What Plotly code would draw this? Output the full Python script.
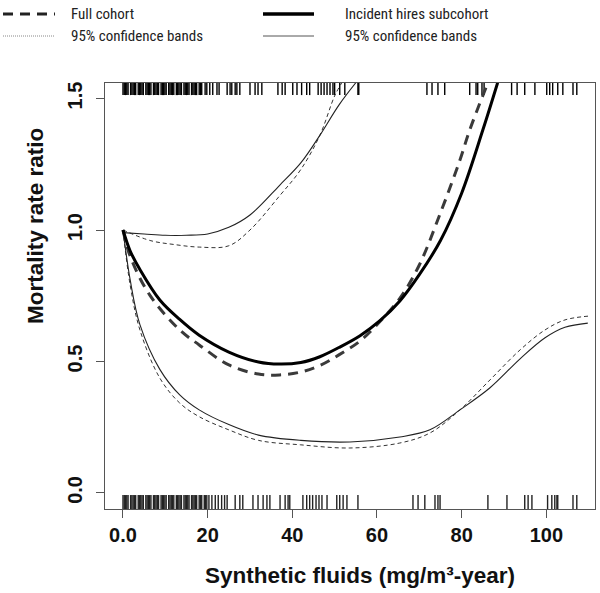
import plotly.graph_objects as go

# ---------------- data ----------------
# Incident hires subcohort (solid) estimate and 95% bands
inc_x = [0, 1.7, 4.0, 8.7, 13.4, 18.0, 25.0, 32.0, 37.0, 42.0, 46.5, 51.0, 56.0, 60.7, 65.4, 70.0, 75.0, 80.0, 85.0, 88.5]
inc_y = [1.0, 0.92, 0.85, 0.734, 0.66, 0.60, 0.536, 0.498, 0.49, 0.496, 0.518, 0.553, 0.598, 0.655, 0.73, 0.83, 0.96, 1.14, 1.38, 1.56]

inc_up_x = [0, 5, 10, 15, 20, 25, 30, 37, 42, 46.5, 51, 55]
inc_up_y = [0.99, 0.985, 0.98, 0.98, 0.985, 1.01, 1.057, 1.17, 1.255, 1.36, 1.475, 1.56]

inc_lo_x = [0, 1.7, 4.0, 8.7, 13.4, 18.0, 25.0, 32.0, 42.0, 53.6, 65.4, 72.5, 79.6, 86.7, 93.8, 99.7, 104.4, 109.8]
inc_lo_y = [1.0, 0.81, 0.64, 0.47, 0.373, 0.316, 0.26, 0.22, 0.20, 0.194, 0.213, 0.24, 0.316, 0.40, 0.51, 0.59, 0.63, 0.646]

# Full cohort (dashed) estimate and 95% bands
full_x = [0, 1.7, 6.3, 13.4, 18.0, 25.0, 32.0, 37.0, 42.0, 46.5, 51.0, 56.0, 60.7, 65.4, 70.0, 74.8, 79.6, 81.9, 86.2]
full_y = [1.0, 0.90, 0.753, 0.62, 0.563, 0.487, 0.452, 0.449, 0.46, 0.485, 0.525, 0.578, 0.652, 0.74, 0.867, 1.057, 1.266, 1.38, 1.56]

full_up_x = [0, 6.4, 12, 18, 25, 30, 37, 42, 46.5, 50, 51.7]
full_up_y = [1.0, 0.96, 0.945, 0.935, 0.94, 1.0, 1.13, 1.23, 1.36, 1.51, 1.56]

full_lo_x = [0, 1.7, 4.0, 8.7, 13.4, 18.0, 25.0, 32.0, 42.0, 53.6, 65.4, 72.5, 79.6, 86.7, 93.8, 99.7, 104.4, 110.3]
full_lo_y = [1.0, 0.79, 0.62, 0.437, 0.342, 0.29, 0.24, 0.20, 0.183, 0.171, 0.19, 0.228, 0.316, 0.43, 0.544, 0.62, 0.658, 0.673]

# Rug values (exposures)
rug_top = [0.0, 0.3, 0.6, 0.9, 1.2, 1.8, 2.1, 2.4, 2.7, 3.0, 3.6, 3.9, 4.2, 4.5, 4.8,
           5.4, 5.7, 6.0, 6.3, 6.6, 7.2, 7.5, 7.8, 8.1, 8.4, 9.0, 9.3, 9.6, 9.9, 10.2,
           10.8, 11.1, 11.4, 11.7, 12.0, 12.6, 12.9, 13.2, 13.5, 13.8, 14.4, 14.7, 15.0, 15.3, 15.6,
           16.2, 16.5, 16.8, 17.1, 17.4, 18.0, 18.3, 18.6,
           19.4, 19.8, 20.5, 21.2, 22.2, 22.7, 24.6, 25.3, 25.7, 26.5, 26.9, 27.6,
           30.0, 31.2, 31.9, 32.8, 36.6, 37.6, 38.3, 40.1, 41.1, 42.2, 43.4, 44.1,
           46.1, 46.8, 47.5, 48.2, 48.9, 49.6, 50.0, 51.2, 52.4, 55.5, 55.7,
           71.8, 73.0, 74.4, 76.0, 81.9, 83.4, 83.8, 84.8, 85.3,
           91.8, 93.1, 94.9, 97.3, 100.1, 100.8, 101.5, 102.7, 103.9, 106.3, 107.2]

rug_bottom = [0.0, 0.3, 0.6, 0.9, 1.2, 1.8, 2.1, 2.4, 2.7, 3.0, 3.6, 3.9, 4.2, 4.5, 4.8,
              5.4, 5.7, 6.0, 6.3, 6.6, 7.2, 7.5, 7.8, 8.1, 8.4, 9.0, 9.3, 9.6, 9.9, 10.2,
              10.8, 11.1, 11.4, 11.7, 12.0, 12.6, 12.9, 13.2, 13.5, 13.8, 14.4, 14.7, 15.0, 15.3, 15.6,
              16.2, 16.5, 16.8, 17.1, 17.4, 18.0, 18.3, 18.6, 19.2, 19.5, 19.8,
              20.3, 21.0, 21.8, 22.5, 23.3, 24.0, 24.6,
              26.5, 27.6, 28.3, 30.7, 31.9, 33.1, 34.0, 34.7, 37.1, 38.3, 39.0, 39.4,
              42.5, 43.4, 44.1, 44.8, 45.6, 46.3, 47.0, 48.2, 50.5, 51.2, 52.0, 52.9, 55.5,
              68.5, 69.7, 71.3, 73.7, 74.4, 74.9, 86.2, 90.7, 94.9, 95.7, 96.6,
              100.3, 101.3, 102.0, 102.5, 102.7, 106.3, 107.2]

x_ticks = [0, 20, 40, 60, 80, 100]
x_tick_labels = ["0.0", "20", "40", "60", "80", "100"]
y_ticks = [0.0, 0.5, 1.0, 1.5]
y_tick_labels = ["0.0", "0.5", "1.0", "1.5"]

X_RANGE = [-4.25, 111.5]
Y_RANGE = [-0.061, 1.559]


def rug_segments(vals, y0, y1):
    xs, ys = [], []
    for v in vals:
        xs += [v, v, None]
        ys += [y0, y1, None]
    return xs, ys


fig = go.Figure()

# rugs
rx, ry = rug_segments(rug_top, 1.513, 1.559)
fig.add_trace(go.Scatter(x=rx, y=ry, mode="lines", line=dict(color="#000", width=1.4), hoverinfo="skip", showlegend=False))
rx, ry = rug_segments(rug_bottom, -0.061, -0.008)
fig.add_trace(go.Scatter(x=rx, y=ry, mode="lines", line=dict(color="#222", width=1.4), hoverinfo="skip", showlegend=False))

# bands
fig.add_trace(go.Scatter(x=full_up_x, y=full_up_y, mode="lines", line=dict(color="#333", width=1, dash="4px,3px", shape="spline"), showlegend=False))
fig.add_trace(go.Scatter(x=full_lo_x, y=full_lo_y, mode="lines", line=dict(color="#333", width=1, dash="4px,3px", shape="spline"), showlegend=False))
fig.add_trace(go.Scatter(x=inc_up_x, y=inc_up_y, mode="lines", line=dict(color="#222", width=1.1, shape="spline"), showlegend=False))
fig.add_trace(go.Scatter(x=inc_lo_x, y=inc_lo_y, mode="lines", line=dict(color="#222", width=1.1, shape="spline"), showlegend=False))

# estimates
fig.add_trace(go.Scatter(x=full_x, y=full_y, mode="lines", line=dict(color="#3a3a3a", width=3, dash="10px,7px", shape="spline"), showlegend=False))
fig.add_trace(go.Scatter(x=inc_x, y=inc_y, mode="lines", line=dict(color="#000", width=3, shape="spline"), showlegend=False))

W, H = 600, 593
L, R, T, B = 105, 5, 83, 84
pw, ph = W - L - R, H - T - B


def px2paper_x(px):
    return (px - L) / pw


def px2paper_y(py):
    return (H - B - py) / ph


shapes = []
annotations = []
legend_font = dict(family="Liberation Sans Narrow, Roboto Condensed, Arial Narrow, sans-serif", size=15, color="#222")
# legend samples
shapes.append(dict(type="line", xref="paper", yref="paper", x0=px2paper_x(3), x1=px2paper_x(55), y0=px2paper_y(14), y1=px2paper_y(14),
                   line=dict(color="#222", width=3, dash="10px,7px")))
shapes.append(dict(type="line", xref="paper", yref="paper", x0=px2paper_x(3), x1=px2paper_x(55), y0=px2paper_y(36), y1=px2paper_y(36),
                   line=dict(color="#888", width=1, dash="1px,1px")))
shapes.append(dict(type="line", xref="paper", yref="paper", x0=px2paper_x(263), x1=px2paper_x(314), y0=px2paper_y(14), y1=px2paper_y(14),
                   line=dict(color="#000", width=3.5)))
shapes.append(dict(type="line", xref="paper", yref="paper", x0=px2paper_x(263), x1=px2paper_x(314), y0=px2paper_y(36), y1=px2paper_y(36),
                   line=dict(color="#555", width=1)))
for txt, xpx, ypx in [("Full cohort", 69, 14), ("95% confidence bands", 69, 36),
                      ("Incident hires subcohort", 343, 14), ("95% confidence bands", 343, 36)]:
    annotations.append(dict(text=txt, xref="paper", yref="paper", x=px2paper_x(xpx), y=px2paper_y(ypx),
                            xanchor="left", yanchor="middle", showarrow=False, font=legend_font))

title_font = dict(family="Liberation Sans, Arial, sans-serif", size=22.5, color="#111", weight="bold")
annotations.append(dict(text="Mortality rate ratio", xref="paper", yref="paper", x=px2paper_x(36), y=px2paper_y(226),
                        textangle=-90, xanchor="center", yanchor="middle", showarrow=False, font=title_font))
annotations.append(dict(text="Synthetic fluids (mg/m³-year)", xref="paper", yref="paper", x=px2paper_x(360), y=px2paper_y(575),
                        xanchor="center", yanchor="middle", showarrow=False, font=title_font))

tick_font = dict(family="Liberation Sans, Arial, sans-serif", size=20, color="#111", weight="bold")

fig.update_layout(
    width=W, height=H,
    margin=dict(l=L, r=R, t=T, b=B),
    paper_bgcolor="white", plot_bgcolor="white",
    shapes=shapes, annotations=annotations,
    xaxis=dict(range=X_RANGE, tickvals=x_ticks, ticktext=x_tick_labels, ticks="outside", ticklen=8,
               tickcolor="#555", showline=True, linecolor="#555", linewidth=1, mirror=True,
               showgrid=False, zeroline=False, tickfont=tick_font),
    yaxis=dict(range=Y_RANGE, tickvals=y_ticks, ticktext=y_tick_labels, ticks="outside", ticklen=8,
               tickcolor="#555", showline=True, linecolor="#555", linewidth=1, mirror=True,
               showgrid=False, zeroline=False, tickfont=tick_font, tickangle=-90, ticklabelstandoff=6),
)

fig.write_html("out.html", config={"displayModeBar": False},
               post_script="document.body.style.margin='0';")
